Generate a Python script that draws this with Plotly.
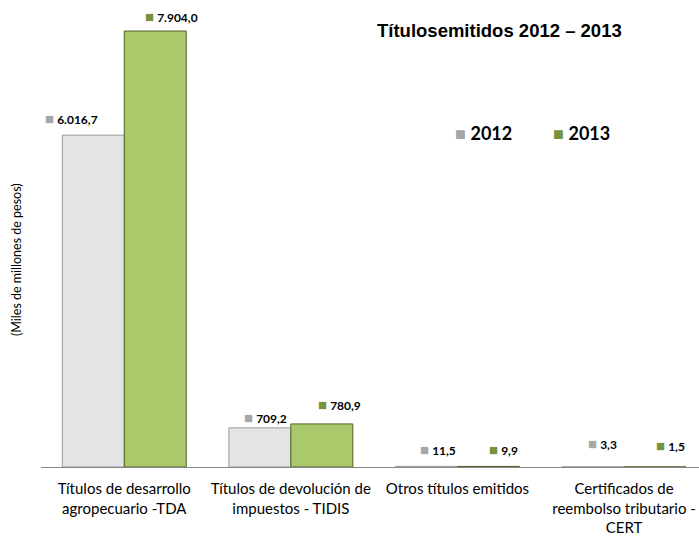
import plotly.graph_objects as go

categories = ["Títulos de desarrollo<br>agropecuario -TDA",
              "Títulos de devolución de<br>impuestos - TIDIS",
              "Otros títulos emitidos",
              "Certificados de<br>reembolso tributario -<br>CERT"]
series_names = ["2012", "2013"]
values_2012 = [6016.7, 709.2, 11.5, 3.3]
values_2013 = [7904.0, 780.9, 9.9, 1.5]

# label pixel offsets (style only)
lab_dx_2012 = [-22, 6, 12, 9]
lab_dx_2013 = [16, 18, 15, 15]
lab_dy_2012 = [17, 11, 17, 24]
lab_dy_2013 = [15, 20, 17, 22]

def fmt(v):
    s = f"{v:,.1f}"
    return s.replace(",", "X").replace(".", ",").replace("X", ".")

colors = {"2012": ("#e4e4e4", "#9a9a9a", "#a6a6a6"),
          "2013": ("#a9c96b", "#4f6228", "#76933c")}

FONT = "Lato, Carlito, Calibri, sans-serif"
L, T, B = 41, 20, 72
PW, PH = 699 - L, 539 - T - B

def px(x):
    return (x - L) / PW

def py(y):
    return (539 - B - y) / PH

fig = go.Figure()
xs = list(range(len(categories)))
for name, vals in zip(series_names, [values_2012, values_2013]):
    fill, line, sq = colors[name]
    fig.add_trace(go.Bar(x=xs, y=vals, name=name, showlegend=False,
                         marker=dict(color=fill, line=dict(color=line, width=1))))

half = (1 - 0.256) / 2 / 2
annotations = []
for name, vals, dxs, dys, off in [("2012", values_2012, lab_dx_2012, lab_dy_2012, -half),
                                  ("2013", values_2013, lab_dx_2013, lab_dy_2013, half)]:
    sq = colors[name][2]
    for i, v in enumerate(vals):
        annotations.append(dict(
            x=i + off, y=v, xref="x", yref="y", showarrow=False,
            text=f'<span style="color:{sq};font-size:15px">■</span> <b>{fmt(v)}</b>',
            font=dict(family=FONT, size=12, color="#000"),
            xshift=dxs[i], yshift=dys[i]))

# legend drawn as annotations
for name, xpos in zip(series_names, [453, 551]):
    sq = colors[name][2]
    annotations.append(dict(x=px(xpos), y=py(133), xref="paper", yref="paper",
                            xanchor="left", yanchor="middle", showarrow=False,
                            text=f'<span style="color:{sq};font-size:18px">■</span> <b>{name}</b>',
                            font=dict(family=FONT, size=18, color="#000")))

annotations.append(dict(x=px(499), y=py(30), xref="paper", yref="paper",
                        xanchor="center", yanchor="middle",
                        showarrow=False, text="<b>Títulosemitidos 2012 – 2013</b>",
                        font=dict(family="Liberation Sans, Arial", size=18.5, color="#000")))
annotations.append(dict(x=px(16), y=py(260), xref="paper", yref="paper",
                        xanchor="center", yanchor="middle",
                        showarrow=False, textangle=-90, text="(Miles de millones de pesos)",
                        font=dict(family=FONT, size=12.5, color="#000")))

fig.update_layout(
    width=699, height=539,
    margin=dict(l=L, r=0, t=T, b=B, autoexpand=False),
    paper_bgcolor="white", plot_bgcolor="white",
    barmode="group", bargap=0.256, bargroupgap=0,
    showlegend=False,
    annotations=annotations,
    xaxis=dict(tickmode="array", tickvals=xs, ticktext=categories,
               range=[-0.5, 3.45], showline=True, linecolor="#888", linewidth=1,
               ticks="", showgrid=False, zeroline=False, ticklabelstandoff=8,
               tickfont=dict(family=FONT, size=15, color="#000")),
    yaxis=dict(range=[0, 8104], showticklabels=False, showgrid=False,
               zeroline=False, showline=False, ticks=""),
)

fig.write_html("out.html", config={"displayModeBar": False},
               post_script="document.body.style.margin='0';")
